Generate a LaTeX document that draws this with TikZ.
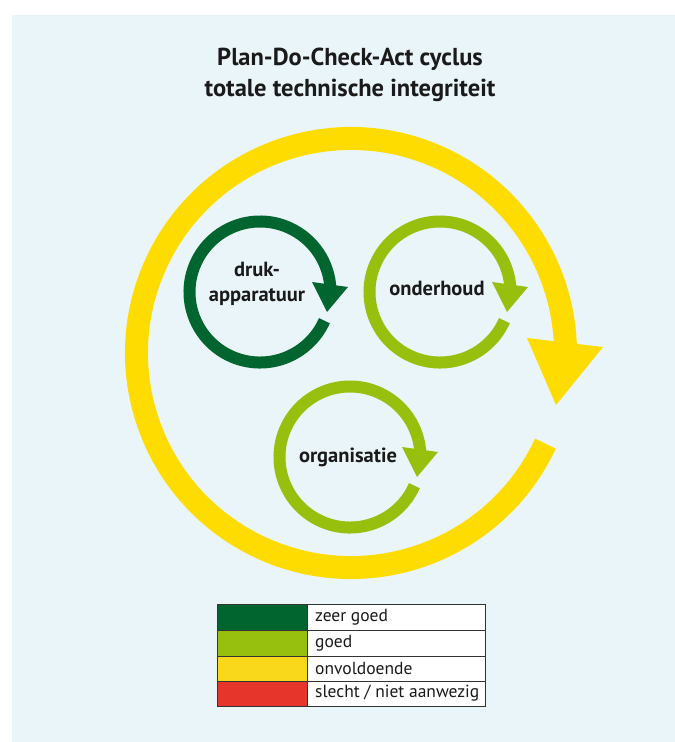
\documentclass[tikz,border=0pt]{standalone}
\usepackage{fontspec}
\setmainfont{PT Sans}
\definecolor{bg}{HTML}{EAF5FA}
\definecolor{yel}{HTML}{FFDC00}
\definecolor{dgreen}{HTML}{00652E}
\definecolor{lgreen}{HTML}{97BF0D}
\definecolor{lyel}{HTML}{F9D81B}
\definecolor{lred}{HTML}{E6362C}
\definecolor{txt}{HTML}{1A1A1A}
\definecolor{frame}{HTML}{333333}
\tikzset{
  titletext/.style={font=\bfseries\fontsize{24.5}{28}\selectfont, text=txt, anchor=base, inner sep=0pt},
  ringlabel/.style={font=\bfseries\fontsize{20.5}{25}\selectfont, text=txt, align=center, inner sep=0pt},
  legendtext/.style={font=\fontsize{17.5}{20}\selectfont, text=txt, anchor=west, inner sep=0pt},
  smallring/.style={line width=12pt},
  bigring/.style={line width=23pt, draw=yel},
  cellbox/.style={draw=frame, line width=0.8pt},
}
\begin{document}
\begin{tikzpicture}[x=1pt,y=1pt]
\useasboundingbox (0,0) rectangle (675,-742);
\fill[white] (0,0) rectangle (675,-742);
\fill[bg] (12,-15) rectangle (675,-742);

% title
\node[titletext] (t1) at (350,-65) {Plan-Do-Check-Act cyclus};
\node[titletext] (t2) at (350,-96) {totale technische integriteit};

% big yellow cycle
\coordinate (C) at (351,-353);
\draw[bigring] ([shift={(-25:214.5)}]C) arc[start angle=-25, end angle=-362, radius=214.5];
\fill[yel] ([shift={(176,15)}]C) -- ([shift={(252,6)}]C) -- ([shift={(205,-52)}]C) -- cycle;

% small cycles
\foreach \name/\cx/\cy/\col in {D/260/-292/dgreen, O/440/-292/lgreen, G/350/-457/lgreen}{
  \coordinate (\name) at (\cx,\cy);
  \draw[smallring, draw=\col] ([shift={(-24:70.5)}]\name) arc[start angle=-24, end angle=-358, radius=70.5];
  \fill[\col] ([shift={(52,10)}]\name) -- ([shift={(88,5)}]\name) -- ([shift={(67,-20)}]\name) -- cycle;
}
\node[ringlabel] (ld) at (257,-284) {druk-\\apparatuur};
\node[ringlabel] (lo) at (437,-288) {onderhoud};
\node[ringlabel] (lg) at (348,-457) {organisatie};

% legend
\fill[dgreen] (217,-604) rectangle (307,-630);
\fill[lgreen] (217,-630) rectangle (307,-656);
\fill[lyel] (217,-656) rectangle (307,-681);
\fill[lred] (217,-681) rectangle (307,-706);
\fill[white] (307,-604) rectangle (485,-706);
\draw[frame, line width=0.5pt] (217,-630) -- (485,-630) (217,-656) -- (485,-656) (217,-681) -- (485,-681);
\draw[frame, line width=0.8pt] (307,-604) -- (307,-706);
\draw[cellbox] (217,-604) rectangle (485,-706);
\node[legendtext] (k1) at (315,-617) {zeer goed};
\node[legendtext] (k2) at (315,-643) {goed};
\node[legendtext] (k3) at (315,-668.5) {onvoldoende};
\node[legendtext] (k4) at (315,-693.5) {slecht / niet aanwezig};
\end{tikzpicture}
\end{document}
